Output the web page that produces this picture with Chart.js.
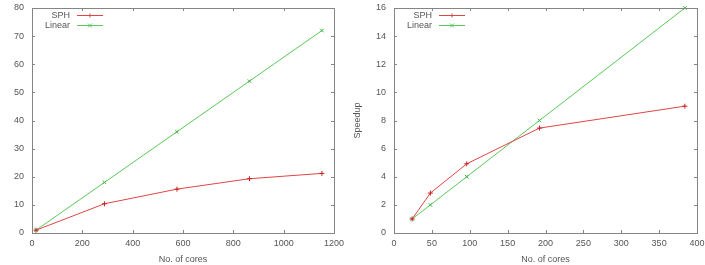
<!DOCTYPE html>
<html>
<head>
<meta charset="utf-8">
<script src="https://cdn.jsdelivr.net/npm/chart.js@4.4.1/dist/chart.umd.min.js"></script>
<style>
body { margin: 0; background: #fff; overflow: hidden; width: 705px; height: 265px; position: relative; }
.box { position: absolute; top: 0; }
</style>
</head>
<body>
<div class="box" style="left:-10px"><canvas id="chartA" width="360" height="265"></canvas></div>
<div class="box" style="left:352px"><canvas id="chartB" width="370" height="265"></canvas></div>
<script>
// left plot
var coresA = [16, 288, 576, 864, 1152];
var sphA = [1, 10.4, 15.6, 19.3, 21.2];
var linearA = [1, 18, 36, 54, 72];

// right plot
var coresB = [24, 48, 96, 192, 384];
var sphB = [1, 2.84, 4.92, 7.46, 9.02];
var linearB = [1, 2, 4, 8, 16];

var textColor = '#555';
var frameColor = '#858585';
var fontFam = "'Liberation Sans', Arial, sans-serif";

function toPoints(xs, ys) {
    return xs.map(function (x, i) { return { x: x, y: ys[i] }; });
}

function drawMarker(ctx, style, x, y, r) {
    ctx.beginPath();
    if (style === 'cross') {
        ctx.moveTo(x - r, y); ctx.lineTo(x + r, y);
        ctx.moveTo(x, y - r); ctx.lineTo(x, y + r);
    } else {
        ctx.moveTo(x - r, y - r); ctx.lineTo(x + r, y + r);
        ctx.moveTo(x - r, y + r); ctx.lineTo(x + r, y - r);
    }
    ctx.stroke();
}

// gnuplot look: closed frame, inward ticks on all sides, key top left
const gnuFrame = {
    id: 'gnuFrame',
    afterDraw(chart) {
        const ctx = chart.ctx;
        const a = chart.chartArea;
        const xs = chart.scales.x, ys = chart.scales.y;
        const tl = 3;
        ctx.save();
        ctx.strokeStyle = frameColor;
        ctx.lineWidth = 1;
        ctx.strokeRect(Math.round(a.left) + 0.5, Math.round(a.top) + 0.5,
            Math.round(a.right - a.left), Math.round(a.bottom - a.top));
        ctx.beginPath();
        xs.ticks.forEach(function (t) {
            var px = Math.round(xs.getPixelForValue(t.value)) + 0.5;
            ctx.moveTo(px, a.bottom); ctx.lineTo(px, a.bottom - tl);
            ctx.moveTo(px, a.top); ctx.lineTo(px, a.top + tl);
        });
        ys.ticks.forEach(function (t) {
            var py = Math.round(ys.getPixelForValue(t.value)) + 0.5;
            ctx.moveTo(a.left, py); ctx.lineTo(a.left + tl, py);
            ctx.moveTo(a.right, py); ctx.lineTo(a.right - tl, py);
        });
        ctx.stroke();

        // key
        ctx.font = '9px ' + fontFam;
        ctx.textAlign = 'right';
        ctx.textBaseline = 'middle';
        chart.data.datasets.forEach(function (ds, i) {
            var y = Math.round(a.top + 7 + i * 10) + 0.5;
            ctx.fillStyle = textColor;
            ctx.fillText(ds.label, a.left + 38, y);
            ctx.strokeStyle = ds.borderColor;
            ctx.beginPath();
            ctx.moveTo(a.left + 45, y); ctx.lineTo(a.left + 71, y);
            ctx.stroke();
            drawMarker(ctx, ds.pointStyle, a.left + 58, y, 2);
        });
        ctx.restore();
    }
};

function plainTick(v) { return String(v); }

function makeChart(id, cores, sph, linear, xMax, xStep, yMax, yStep, padRight) {
    const config = {
        type: 'line',
        data: {
            datasets: [{
                label: 'SPH',
                data: toPoints(cores, sph),
                borderColor: '#e04545',
                backgroundColor: '#e04545',
                borderWidth: 1,
                pointStyle: 'cross',
                pointRadius: 2.5,
                pointBorderWidth: 1,
                pointBorderColor: '#c82020',
                clip: false
            }, {
                label: 'Linear',
                data: toPoints(cores, linear),
                borderColor: '#5ac85a',
                backgroundColor: '#5ac85a',
                borderWidth: 1,
                pointStyle: 'crossRot',
                pointRadius: 2.5,
                pointBorderWidth: 1,
                pointBorderColor: '#3cb43c',
                clip: false
            }]
        },
        options: {
            responsive: false,
            animation: false,
            layout: { padding: { left: 0, top: 8, right: padRight, bottom: 0 } },
            plugins: {
                legend: { display: false },
                tooltip: { enabled: false }
            },
            scales: {
                x: {
                    type: 'linear',
                    min: 0, max: xMax,
                    grid: { display: false, drawTicks: false },
                    border: { display: false },
                    ticks: { stepSize: xStep, padding: 5, color: textColor, callback: plainTick, font: { family: fontFam, size: 9 } },
                    title: { display: true, text: 'No. of cores', color: textColor, padding: 0, font: { family: fontFam, size: 9 } },
                    afterFit: function (s) { s.height = 32; s.paddingLeft = 0; s.paddingRight = 0; }
                },
                y: {
                    min: 0, max: yMax,
                    grid: { display: false, drawTicks: false },
                    border: { display: false },
                    ticks: { stepSize: yStep, padding: 8, color: textColor, callback: plainTick, font: { family: fontFam, size: 9 } },
                    title: { display: true, text: 'Speedup', color: textColor, padding: 0, font: { family: fontFam, size: 9 } },
                    afterFit: function (s) { s.width = 42; s.paddingTop = 0; s.paddingBottom = 0; }
                }
            }
        },
        plugins: [gnuFrame]
    };
    return new Chart(document.getElementById(id), config);
}

var chartA = makeChart('chartA', coresA, sphA, linearA, 1200, 200, 80, 10, 16);
var chartB = makeChart('chartB', coresB, sphB, linearB, 400, 50, 16, 2, 25);
</script>
</body>
</html>
